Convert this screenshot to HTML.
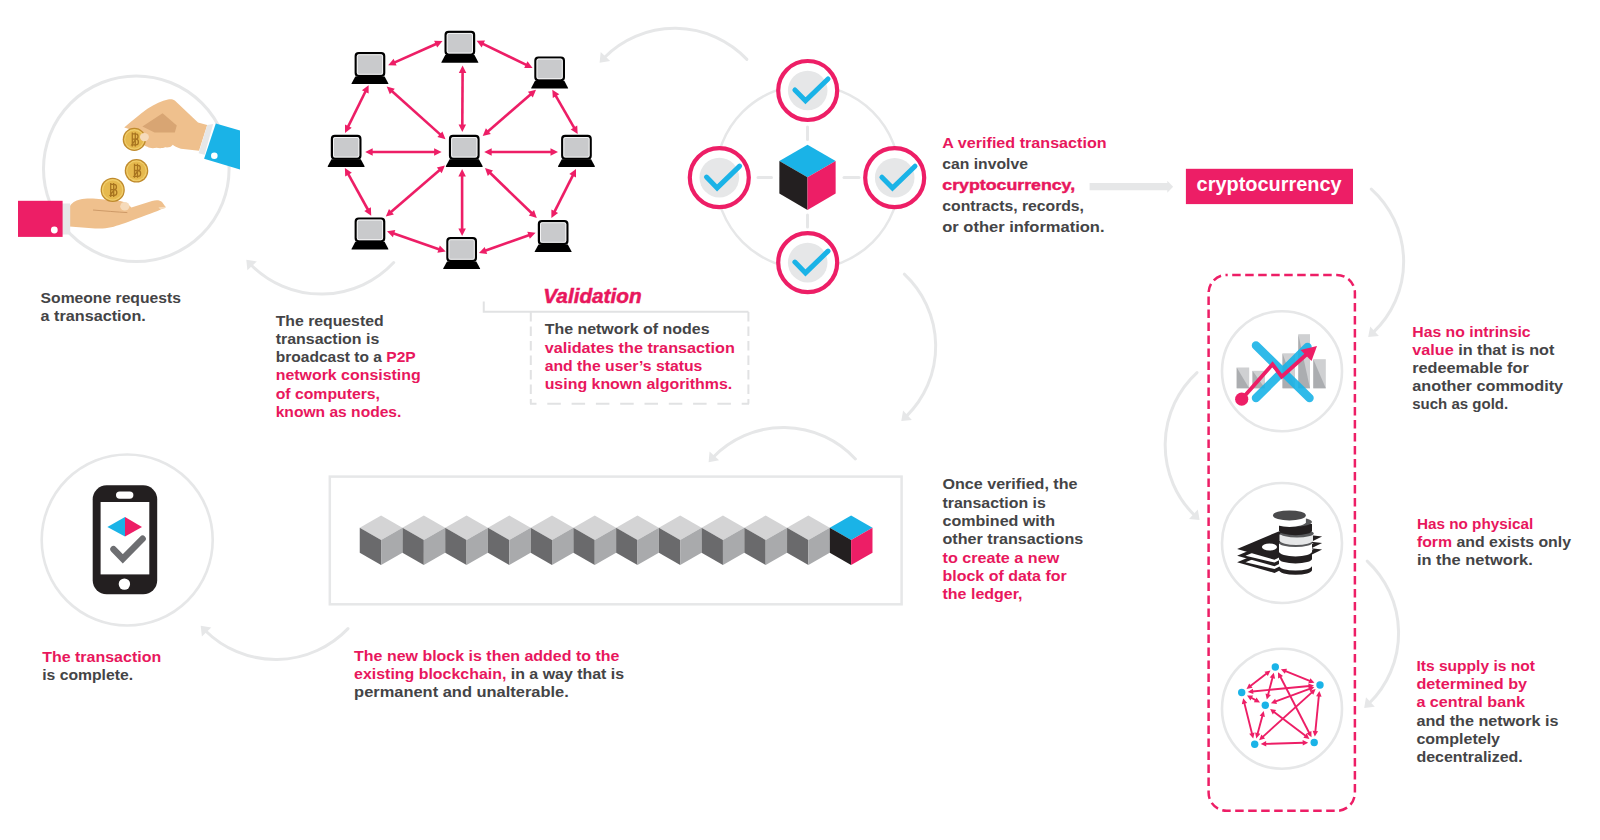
<!DOCTYPE html><html><head><meta charset="utf-8"><style>html,body{margin:0;padding:0;background:#fff;width:1600px;height:840px;overflow:hidden}svg{display:block;font-family:"Liberation Sans",sans-serif}</style></head><body>
<svg width="1600" height="840" viewBox="0 0 1600 840">
<rect width="1600" height="840" fill="#fff"/>
<path d="M393.7,262.5 A99.0,99.0 0 0 1 250.9,264.7" fill="none" stroke="#e6e7e8" stroke-width="3" stroke-linecap="round"/>
<polygon points="246.3,259.7 256.9,261.4 247.4,270.3" fill="#e6e7e8"/>
<path d="M746.9,59.4 A99.4,99.4 0 0 0 604.2,57.7" fill="none" stroke="#e6e7e8" stroke-width="3" stroke-linecap="round"/>
<polygon points="599.6,62.7 600.7,52.1 610.2,61.0" fill="#e6e7e8"/>
<path d="M904.3,274.2 A98.4,98.4 0 0 1 906.3,416.4" fill="none" stroke="#e6e7e8" stroke-width="3" stroke-linecap="round"/>
<polygon points="901.3,421.0 903.1,410.4 911.9,420.0" fill="#e6e7e8"/>
<path d="M855.4,458.9 A97.9,97.9 0 0 0 713.2,457.2" fill="none" stroke="#e6e7e8" stroke-width="3" stroke-linecap="round"/>
<polygon points="708.6,462.2 709.6,451.5 719.1,460.3" fill="#e6e7e8"/>
<path d="M348.0,628.6 A100.1,100.1 0 0 1 205.4,630.7" fill="none" stroke="#e6e7e8" stroke-width="3" stroke-linecap="round"/>
<polygon points="200.7,625.8 211.3,627.4 201.9,636.4" fill="#e6e7e8"/>
<path d="M1371.3,189.1 A97.6,97.6 0 0 1 1373.3,332.4" fill="none" stroke="#e6e7e8" stroke-width="3" stroke-linecap="round"/>
<polygon points="1368.2,336.9 1370.2,326.4 1378.9,336.0" fill="#e6e7e8"/>
<path d="M1197.0,372.6 A98.6,98.6 0 0 0 1194.6,515.4" fill="none" stroke="#e6e7e8" stroke-width="3" stroke-linecap="round"/>
<polygon points="1199.6,520.0 1189.0,518.9 1197.8,509.4" fill="#e6e7e8"/>
<path d="M1367.2,561.1 A98.4,98.4 0 0 1 1369.2,703.3" fill="none" stroke="#e6e7e8" stroke-width="3" stroke-linecap="round"/>
<polygon points="1364.2,707.9 1366.0,697.3 1374.8,706.8" fill="#e6e7e8"/>
<circle cx="136.3" cy="168.8" r="92.8" fill="none" stroke="#e6e7e8" stroke-width="3"/>
<path d="M69.5,206.6 C72,203 75,200.5 80,199.5 C84,198.6 90,198.4 96,198.8 L120.3,201 C125,202 129,204.5 131.4,207.6 L152,201 C156,199.8 160,200 162,202 L165.8,207.2 C160,210 150,214 136.5,218.7 C125,223 118,225.5 111.2,227.3 C106,228.6 100,228.8 95,228.4 L69.5,226.5 Z" fill="#efc08d"/>
<path d="M93,210 C105,211 117,212 127.3,212.6" stroke="#c99563" stroke-width="0.9" fill="none"/>
<ellipse cx="124.8" cy="206.2" rx="4.6" ry="4.3" fill="#f6dbbb"/>
<path d="M158.5,207.2 L165.8,206.8 L164.5,208.6 L160,209.3 Z" fill="#f6dbbb"/>
<rect x="62" y="203.5" width="8.2" height="31" fill="#e6e7e8"/>
<rect x="18" y="200.8" width="44.6" height="36.1" fill="#ed1e66"/>
<circle cx="54.3" cy="230" r="3.4" fill="#fff"/>
<path d="M124.2,127.4 C132,121 140,114 147.4,108.7 C155,104 162,101 168,99.6 C171,99 173,99.6 174.8,100.6 L198,122.4 L207.2,124.9 L199,150.7 L180.9,148.7 C177,147.5 174,146 172.8,144.7 C171,147.5 168,147.5 165,147.3 C163,148.3 159,148.5 156.6,147.7 C153,148.5 150,148.3 147.4,146.7 C145,146.5 143.8,145 143.4,143.6 L140.4,132.5 Z" fill="#efc08d"/>
<path d="M142.4,126.4 L162.6,113.3 L176.8,125.4 L174.8,132.5 L154.5,132.5 Z" fill="#d8a573"/>
<polygon points="207.2,124.9 213.2,123.9 204.6,154.8 198.6,153.3" fill="#e6e7e8"/>
<polygon points="215.8,123.4 240,130.5 240,169.5 204.1,158.8" fill="#1ab3e7"/>
<circle cx="214.3" cy="155.8" r="3.3" fill="#fff"/>
<circle cx="134.3" cy="139.4" r="11.6" fill="#bf8a2c"/>
<circle cx="134.3" cy="139.4" r="10.299999999999999" fill="#f0cd6a"/>
<circle cx="134.3" cy="139.4" r="9.0" fill="#e6b94e"/>
<path d="M131.8,133.9 L135.8,133.9 C138.8,133.9 138.8,139.1 135.8,139.1 L131.8,139.1 M135.8,139.1 C139.3,139.1 139.3,144.9 135.8,144.9 L131.8,144.9 Z M132.3,132.4 L132.3,146.4 M135.3,132.4 L135.3,146.4" fill="none" stroke="#a87420" stroke-width="1.3"/>
<circle cx="136.5" cy="170.8" r="11.8" fill="#bf8a2c"/>
<circle cx="136.5" cy="170.8" r="10.5" fill="#f0cd6a"/>
<circle cx="136.5" cy="170.8" r="9.200000000000001" fill="#e6b94e"/>
<path d="M134.0,165.3 L138.0,165.3 C141.0,165.3 141.0,170.5 138.0,170.5 L134.0,170.5 M138.0,170.5 C141.5,170.5 141.5,176.3 138.0,176.3 L134.0,176.3 Z M134.5,163.8 L134.5,177.8 M137.5,163.8 L137.5,177.8" fill="none" stroke="#a87420" stroke-width="1.3"/>
<circle cx="112.7" cy="189.9" r="12.1" fill="#bf8a2c"/>
<circle cx="112.7" cy="189.9" r="10.799999999999999" fill="#f0cd6a"/>
<circle cx="112.7" cy="189.9" r="9.5" fill="#e6b94e"/>
<path d="M110.2,184.4 L114.2,184.4 C117.2,184.4 117.2,189.6 114.2,189.6 L110.2,189.6 M114.2,189.6 C117.7,189.6 117.7,195.4 114.2,195.4 L110.2,195.4 Z M110.7,182.9 L110.7,196.9 M113.7,182.9 L113.7,196.9" fill="none" stroke="#a87420" stroke-width="1.3"/>
<ellipse cx="144.4" cy="137.1" rx="4.5" ry="4.1" fill="#f6dbbb"/>
<line x1="394.2" y1="62.6" x2="436.6" y2="43.7" stroke="#ed1e66" stroke-width="2.6"/>
<polygon points="388.2,65.2 396.6,65.6 393.6,58.8" fill="#ed1e66"/>
<polygon points="442.5,41.1 437.2,47.6 434.1,40.7" fill="#ed1e66"/>
<line x1="482.4" y1="43.6" x2="526.8" y2="65.1" stroke="#ed1e66" stroke-width="2.6"/>
<polygon points="476.6,40.8 481.7,47.4 485.0,40.6" fill="#ed1e66"/>
<polygon points="532.6,67.9 524.2,68.0 527.5,61.3" fill="#ed1e66"/>
<line x1="462.6" y1="72.1" x2="462.3" y2="125.5" stroke="#ed1e66" stroke-width="2.6"/>
<polygon points="462.6,65.6 458.8,73.1 466.3,73.1" fill="#ed1e66"/>
<polygon points="462.3,132.0 458.6,124.5 466.1,124.5" fill="#ed1e66"/>
<line x1="365.7" y1="91.0" x2="347.9" y2="127.1" stroke="#ed1e66" stroke-width="2.6"/>
<polygon points="368.6,85.2 361.9,90.3 368.6,93.6" fill="#ed1e66"/>
<polygon points="345.0,132.9 345.0,124.5 351.7,127.8" fill="#ed1e66"/>
<line x1="391.5" y1="90.8" x2="440.7" y2="134.9" stroke="#ed1e66" stroke-width="2.6"/>
<polygon points="386.7,86.5 389.8,94.3 394.8,88.7" fill="#ed1e66"/>
<polygon points="445.5,139.2 437.4,137.0 442.4,131.4" fill="#ed1e66"/>
<line x1="531.1" y1="94.0" x2="487.6" y2="131.7" stroke="#ed1e66" stroke-width="2.6"/>
<polygon points="536.0,89.7 527.9,91.8 532.8,97.4" fill="#ed1e66"/>
<polygon points="482.7,136.0 485.9,128.3 490.8,133.9" fill="#ed1e66"/>
<line x1="555.5" y1="95.3" x2="574.5" y2="128.4" stroke="#ed1e66" stroke-width="2.6"/>
<polygon points="552.3,89.7 552.8,98.1 559.3,94.3" fill="#ed1e66"/>
<polygon points="577.7,134.0 570.7,129.4 577.2,125.6" fill="#ed1e66"/>
<line x1="371.7" y1="152.0" x2="435.1" y2="152.0" stroke="#ed1e66" stroke-width="2.6"/>
<polygon points="365.2,152.0 372.7,155.8 372.7,148.2" fill="#ed1e66"/>
<polygon points="441.6,152.0 434.1,155.8 434.1,148.2" fill="#ed1e66"/>
<line x1="490.7" y1="152.0" x2="551.5" y2="152.0" stroke="#ed1e66" stroke-width="2.6"/>
<polygon points="484.2,152.0 491.7,155.8 491.7,148.2" fill="#ed1e66"/>
<polygon points="558.0,152.0 550.5,155.8 550.5,148.2" fill="#ed1e66"/>
<line x1="348.0" y1="173.7" x2="368.1" y2="210.0" stroke="#ed1e66" stroke-width="2.6"/>
<polygon points="344.9,168.0 345.2,176.4 351.8,172.8" fill="#ed1e66"/>
<polygon points="371.2,215.7 364.3,210.9 370.9,207.3" fill="#ed1e66"/>
<line x1="440.0" y1="169.8" x2="390.7" y2="212.3" stroke="#ed1e66" stroke-width="2.6"/>
<polygon points="444.9,165.5 436.8,167.6 441.7,173.2" fill="#ed1e66"/>
<polygon points="385.8,216.6 389.0,208.9 393.9,214.5" fill="#ed1e66"/>
<line x1="462.1" y1="175.5" x2="462.1" y2="229.4" stroke="#ed1e66" stroke-width="2.6"/>
<polygon points="462.1,169.0 458.4,176.5 465.9,176.5" fill="#ed1e66"/>
<polygon points="462.1,235.9 458.4,228.4 465.9,228.4" fill="#ed1e66"/>
<line x1="489.7" y1="172.5" x2="532.1" y2="213.5" stroke="#ed1e66" stroke-width="2.6"/>
<polygon points="485.0,168.0 487.8,175.9 493.0,170.5" fill="#ed1e66"/>
<polygon points="536.8,218.0 528.8,215.5 534.0,210.1" fill="#ed1e66"/>
<line x1="573.1" y1="174.8" x2="554.3" y2="212.2" stroke="#ed1e66" stroke-width="2.6"/>
<polygon points="576.0,169.0 569.3,174.0 576.0,177.4" fill="#ed1e66"/>
<polygon points="551.4,218.0 551.4,209.6 558.1,213.0" fill="#ed1e66"/>
<line x1="393.1" y1="233.3" x2="439.6" y2="249.5" stroke="#ed1e66" stroke-width="2.6"/>
<polygon points="387.0,231.2 392.9,237.2 395.3,230.1" fill="#ed1e66"/>
<polygon points="445.7,251.6 437.4,252.7 439.8,245.6" fill="#ed1e66"/>
<line x1="485.0" y1="250.7" x2="529.5" y2="234.9" stroke="#ed1e66" stroke-width="2.6"/>
<polygon points="478.9,252.9 487.2,253.9 484.7,246.9" fill="#ed1e66"/>
<polygon points="535.6,232.7 529.8,238.7 527.3,231.7" fill="#ed1e66"/>
<rect x="445.6" y="31.8" width="28.5" height="22.8" rx="3" fill="#c9cacc" stroke="#000" stroke-width="2.2"/>
<rect x="447.2" y="33.4" width="25.3" height="19.6" rx="1.8" fill="none" stroke="#fff" stroke-width="0.8"/>
<path d="M445.2,55.1 L474.5,55.1 L478.3,62.2 Q478.5,62.8 477.7,62.8 L442.0,62.8 Q441.2,62.8 441.4,62.2 Z" fill="#000"/>
<rect x="355.7" y="53.1" width="28.5" height="22.8" rx="3" fill="#c9cacc" stroke="#000" stroke-width="2.2"/>
<rect x="357.3" y="54.7" width="25.3" height="19.6" rx="1.8" fill="none" stroke="#fff" stroke-width="0.8"/>
<path d="M355.3,76.4 L384.6,76.4 L388.4,83.5 Q388.6,84.1 387.8,84.1 L352.1,84.1 Q351.3,84.1 351.5,83.5 Z" fill="#000"/>
<rect x="535.4" y="57.5" width="28.5" height="22.8" rx="3" fill="#c9cacc" stroke="#000" stroke-width="2.2"/>
<rect x="537.0" y="59.1" width="25.3" height="19.6" rx="1.8" fill="none" stroke="#fff" stroke-width="0.8"/>
<path d="M535.0,80.8 L564.3,80.8 L568.1,87.9 Q568.3,88.5 567.5,88.5 L531.8,88.5 Q531.0,88.5 531.2,87.9 Z" fill="#000"/>
<rect x="331.9" y="135.9" width="28.5" height="22.8" rx="3" fill="#c9cacc" stroke="#000" stroke-width="2.2"/>
<rect x="333.5" y="137.5" width="25.3" height="19.6" rx="1.8" fill="none" stroke="#fff" stroke-width="0.8"/>
<path d="M331.5,159.2 L360.8,159.2 L364.6,166.3 Q364.8,166.9 364.0,166.9 L328.3,166.9 Q327.5,166.9 327.7,166.3 Z" fill="#000"/>
<rect x="450.0" y="135.9" width="28.5" height="22.8" rx="3" fill="#c9cacc" stroke="#000" stroke-width="2.2"/>
<rect x="451.6" y="137.5" width="25.3" height="19.6" rx="1.8" fill="none" stroke="#fff" stroke-width="0.8"/>
<path d="M449.6,159.2 L478.9,159.2 L482.7,166.3 Q482.9,166.9 482.1,166.9 L446.4,166.9 Q445.6,166.9 445.8,166.3 Z" fill="#000"/>
<rect x="562.2" y="135.9" width="28.5" height="22.8" rx="3" fill="#c9cacc" stroke="#000" stroke-width="2.2"/>
<rect x="563.8" y="137.5" width="25.3" height="19.6" rx="1.8" fill="none" stroke="#fff" stroke-width="0.8"/>
<path d="M561.8,159.2 L591.1,159.2 L594.9,166.3 Q595.1,166.9 594.3,166.9 L558.6,166.9 Q557.8,166.9 558.0,166.3 Z" fill="#000"/>
<rect x="355.7" y="218.5" width="28.5" height="22.8" rx="3" fill="#c9cacc" stroke="#000" stroke-width="2.2"/>
<rect x="357.3" y="220.1" width="25.3" height="19.6" rx="1.8" fill="none" stroke="#fff" stroke-width="0.8"/>
<path d="M355.3,241.8 L384.6,241.8 L388.4,248.9 Q388.6,249.5 387.8,249.5 L352.1,249.5 Q351.3,249.5 351.5,248.9 Z" fill="#000"/>
<rect x="447.4" y="238.1" width="28.5" height="22.8" rx="3" fill="#c9cacc" stroke="#000" stroke-width="2.2"/>
<rect x="449.0" y="239.7" width="25.3" height="19.6" rx="1.8" fill="none" stroke="#fff" stroke-width="0.8"/>
<path d="M447.0,261.4 L476.3,261.4 L480.1,268.5 Q480.3,269.1 479.5,269.1 L443.8,269.1 Q443.0,269.1 443.2,268.5 Z" fill="#000"/>
<rect x="538.9" y="221.1" width="28.5" height="22.8" rx="3" fill="#c9cacc" stroke="#000" stroke-width="2.2"/>
<rect x="540.5" y="222.7" width="25.3" height="19.6" rx="1.8" fill="none" stroke="#fff" stroke-width="0.8"/>
<path d="M538.5,244.4 L567.8,244.4 L571.6,251.5 Q571.8,252.1 571.0,252.1 L535.3,252.1 Q534.5,252.1 534.7,251.5 Z" fill="#000"/>
<circle cx="807.7" cy="177" r="92" fill="none" stroke="#e6e7e8" stroke-width="2.5"/>
<line x1="807.5" y1="127" x2="807.5" y2="139.5" stroke="#e6e7e8" stroke-width="3" stroke-linecap="round"/>
<line x1="807.5" y1="215" x2="807.5" y2="227" stroke="#e6e7e8" stroke-width="3" stroke-linecap="round"/>
<line x1="758" y1="177.5" x2="771.5" y2="177.5" stroke="#e6e7e8" stroke-width="3" stroke-linecap="round"/>
<line x1="844" y1="177.5" x2="859" y2="177.5" stroke="#e6e7e8" stroke-width="3" stroke-linecap="round"/>
<circle cx="807.7" cy="90.5" r="29.5" fill="#fff" stroke="#ed1e66" stroke-width="4.2"/>
<circle cx="807.7" cy="90.5" r="19.8" fill="#e6e7e8"/>
<polyline points="794.9,90.0 805.5,100.8 828.0,79.0" fill="none" stroke="#1ab3e7" stroke-width="5" stroke-linecap="round" stroke-linejoin="miter"/>
<circle cx="719.3" cy="177.6" r="29.5" fill="#fff" stroke="#ed1e66" stroke-width="4.2"/>
<circle cx="719.3" cy="177.6" r="19.8" fill="#e6e7e8"/>
<polyline points="706.5,177.1 717.1,187.9 739.6,166.1" fill="none" stroke="#1ab3e7" stroke-width="5" stroke-linecap="round" stroke-linejoin="miter"/>
<circle cx="894.7" cy="177.7" r="29.5" fill="#fff" stroke="#ed1e66" stroke-width="4.2"/>
<circle cx="894.7" cy="177.7" r="19.8" fill="#e6e7e8"/>
<polyline points="881.9,177.2 892.5,188.0 915.0,166.2" fill="none" stroke="#1ab3e7" stroke-width="5" stroke-linecap="round" stroke-linejoin="miter"/>
<circle cx="807.7" cy="262.6" r="29.5" fill="#fff" stroke="#ed1e66" stroke-width="4.2"/>
<circle cx="807.7" cy="262.6" r="19.8" fill="#e6e7e8"/>
<polyline points="794.9,262.1 805.5,272.9 828.0,251.1" fill="none" stroke="#1ab3e7" stroke-width="5" stroke-linecap="round" stroke-linejoin="miter"/>
<polygon points="807.50,144.70 835.65,161.00 807.50,177.30 779.35,161.00" fill="#1ab3e7"/>
<polygon points="779.35,161.00 807.50,177.30 807.50,209.90 779.35,193.60" fill="#231f20"/>
<polygon points="807.50,177.30 835.65,161.00 835.65,193.60 807.50,209.90" fill="#ed1e66"/>
<polyline points="483.75,301.5 483.75,311.8 748.5,311.8" fill="none" stroke="#e1e2e3" stroke-width="2"/>
<line x1="530.8" y1="312" x2="530.8" y2="403.7" stroke="#e1e2e3" stroke-width="2" stroke-dasharray="9.5,5"/>
<line x1="748.4" y1="312" x2="748.4" y2="403.7" stroke="#e1e2e3" stroke-width="2" stroke-dasharray="9.5,5"/>
<line x1="530" y1="403.7" x2="749" y2="403.7" stroke="#e1e2e3" stroke-width="2" stroke-dasharray="6.5,10.8,13.5,10.8,13.5,10.8,13.5,10.8,13.5,10.8,13.5,10.8,13.5,10.8,13.5,10.8,13.5,10.8,13.5,10.8"/>
<text x="543.3" y="302.75" font-size="19.5" font-weight="bold" font-style="italic" fill="#e8175d" stroke="#e8175d" stroke-width="0.5" textLength="98.3" lengthAdjust="spacingAndGlyphs">Validation</text>
<text x="40.6" y="302.8" font-size="15.5" font-weight="bold" textLength="140.3" lengthAdjust="spacingAndGlyphs"><tspan fill="#444446">Someone requests</tspan></text>
<text x="40.6" y="320.9" font-size="15.5" font-weight="bold" textLength="105.2" lengthAdjust="spacingAndGlyphs"><tspan fill="#444446">a transaction.</tspan></text>
<text x="275.7" y="325.7" font-size="15.5" font-weight="bold" textLength="107.9" lengthAdjust="spacingAndGlyphs"><tspan fill="#444446">The requested</tspan></text>
<text x="275.7" y="343.9" font-size="15.5" font-weight="bold" textLength="103.6" lengthAdjust="spacingAndGlyphs"><tspan fill="#444446">transaction is</tspan></text>
<text x="275.7" y="362.2" font-size="15.5" font-weight="bold" textLength="140" lengthAdjust="spacingAndGlyphs"><tspan fill="#444446">broadcast to a </tspan><tspan fill="#e8175d">P2P</tspan></text>
<text x="275.7" y="380.4" font-size="15.5" font-weight="bold" textLength="145" lengthAdjust="spacingAndGlyphs"><tspan fill="#e8175d">network consisting</tspan></text>
<text x="275.7" y="398.7" font-size="15.5" font-weight="bold" textLength="104.3" lengthAdjust="spacingAndGlyphs"><tspan fill="#e8175d">of computers,</tspan></text>
<text x="275.7" y="416.9" font-size="15.5" font-weight="bold" textLength="125.7" lengthAdjust="spacingAndGlyphs"><tspan fill="#e8175d">known as nodes.</tspan></text>
<text x="544.65" y="334.2" font-size="15.5" font-weight="bold" textLength="164.9" lengthAdjust="spacingAndGlyphs"><tspan fill="#444446">The network of nodes</tspan></text>
<text x="544.65" y="352.6" font-size="15.5" font-weight="bold" textLength="190.2" lengthAdjust="spacingAndGlyphs"><tspan fill="#e8175d">validates the transaction</tspan></text>
<text x="544.65" y="371.1" font-size="15.5" font-weight="bold" textLength="157.7" lengthAdjust="spacingAndGlyphs"><tspan fill="#e8175d">and the user’s status</tspan></text>
<text x="544.65" y="389.4" font-size="15.5" font-weight="bold" textLength="187.6" lengthAdjust="spacingAndGlyphs"><tspan fill="#e8175d">using known algorithms.</tspan></text>
<text x="942.3" y="147.6" font-size="15.5" font-weight="bold" textLength="164.3" lengthAdjust="spacingAndGlyphs"><tspan fill="#e8175d">A verified transaction</tspan></text>
<text x="942.3" y="168.7" font-size="15.5" font-weight="bold" textLength="85.6" lengthAdjust="spacingAndGlyphs"><tspan fill="#444446">can involve</tspan></text>
<text x="942.3" y="189.7" font-size="15.5" font-weight="bold" textLength="132.8" lengthAdjust="spacingAndGlyphs"><tspan fill="#e8175d" stroke="#e8175d" stroke-width="0.45">cryptocurrency,</tspan></text>
<text x="942.3" y="210.8" font-size="15.5" font-weight="bold" textLength="141.7" lengthAdjust="spacingAndGlyphs"><tspan fill="#444446">contracts, records,</tspan></text>
<text x="942.3" y="231.8" font-size="15.5" font-weight="bold" textLength="162.2" lengthAdjust="spacingAndGlyphs"><tspan fill="#444446">or other information.</tspan></text>
<text x="942.5" y="489.2" font-size="15.5" font-weight="bold" textLength="135" lengthAdjust="spacingAndGlyphs"><tspan fill="#444446">Once verified, the</tspan></text>
<text x="942.5" y="507.5" font-size="15.5" font-weight="bold" textLength="103.3" lengthAdjust="spacingAndGlyphs"><tspan fill="#444446">transaction is</tspan></text>
<text x="942.5" y="525.9" font-size="15.5" font-weight="bold" textLength="112.5" lengthAdjust="spacingAndGlyphs"><tspan fill="#444446">combined with</tspan></text>
<text x="942.5" y="544.2" font-size="15.5" font-weight="bold" textLength="140.8" lengthAdjust="spacingAndGlyphs"><tspan fill="#444446">other transactions</tspan></text>
<text x="942.5" y="562.5" font-size="15.5" font-weight="bold" textLength="116.7" lengthAdjust="spacingAndGlyphs"><tspan fill="#e8175d">to create a new</tspan></text>
<text x="942.5" y="580.9" font-size="15.5" font-weight="bold" textLength="124.2" lengthAdjust="spacingAndGlyphs"><tspan fill="#e8175d">block of data for</tspan></text>
<text x="942.5" y="599.2" font-size="15.5" font-weight="bold" textLength="80" lengthAdjust="spacingAndGlyphs"><tspan fill="#e8175d">the ledger,</tspan></text>
<text x="42.2" y="661.8" font-size="15.5" font-weight="bold" textLength="119" lengthAdjust="spacingAndGlyphs"><tspan fill="#e8175d">The transaction</tspan></text>
<text x="42.2" y="679.9" font-size="15.5" font-weight="bold" textLength="90.9" lengthAdjust="spacingAndGlyphs"><tspan fill="#444446">is complete.</tspan></text>
<text x="354.1" y="661.0" font-size="15.5" font-weight="bold" textLength="265.3" lengthAdjust="spacingAndGlyphs"><tspan fill="#e8175d">The new block is then added to the</tspan></text>
<text x="354.1" y="679.1" font-size="15.5" font-weight="bold" textLength="270" lengthAdjust="spacingAndGlyphs"><tspan fill="#e8175d">existing blockchain, </tspan><tspan fill="#444446">in a way that is</tspan></text>
<text x="354.1" y="697.2" font-size="15.5" font-weight="bold" textLength="214.7" lengthAdjust="spacingAndGlyphs"><tspan fill="#444446">permanent and unalterable.</tspan></text>
<text x="1412.25" y="336.9" font-size="15.5" font-weight="bold" textLength="118.4" lengthAdjust="spacingAndGlyphs"><tspan fill="#e8175d">Has no intrinsic</tspan></text>
<text x="1412.25" y="355.0" font-size="15.5" font-weight="bold" textLength="142.1" lengthAdjust="spacingAndGlyphs"><tspan fill="#e8175d">value </tspan><tspan fill="#444446">in that is not</tspan></text>
<text x="1412.25" y="373.1" font-size="15.5" font-weight="bold" textLength="116.5" lengthAdjust="spacingAndGlyphs"><tspan fill="#444446">redeemable for</tspan></text>
<text x="1412.25" y="391.3" font-size="15.5" font-weight="bold" textLength="150.9" lengthAdjust="spacingAndGlyphs"><tspan fill="#444446">another commodity</tspan></text>
<text x="1412.25" y="409.4" font-size="15.5" font-weight="bold" textLength="95.9" lengthAdjust="spacingAndGlyphs"><tspan fill="#444446">such as gold.</tspan></text>
<text x="1416.9" y="528.6" font-size="15.5" font-weight="bold" textLength="116.4" lengthAdjust="spacingAndGlyphs"><tspan fill="#e8175d">Has no physical</tspan></text>
<text x="1416.9" y="546.9" font-size="15.5" font-weight="bold" textLength="154.1" lengthAdjust="spacingAndGlyphs"><tspan fill="#e8175d">form </tspan><tspan fill="#444446">and exists only</tspan></text>
<text x="1416.9" y="565.2" font-size="15.5" font-weight="bold" textLength="115.9" lengthAdjust="spacingAndGlyphs"><tspan fill="#444446">in the network.</tspan></text>
<text x="1416.4" y="670.7" font-size="15.5" font-weight="bold" textLength="118.6" lengthAdjust="spacingAndGlyphs"><tspan fill="#e8175d">Its supply is not</tspan></text>
<text x="1416.4" y="689.0" font-size="15.5" font-weight="bold" textLength="110.7" lengthAdjust="spacingAndGlyphs"><tspan fill="#e8175d">determined by</tspan></text>
<text x="1416.4" y="707.3" font-size="15.5" font-weight="bold" textLength="108.6" lengthAdjust="spacingAndGlyphs"><tspan fill="#e8175d">a central bank</tspan></text>
<text x="1416.4" y="725.5" font-size="15.5" font-weight="bold" textLength="142.1" lengthAdjust="spacingAndGlyphs"><tspan fill="#444446">and the network is</tspan></text>
<text x="1416.4" y="743.8" font-size="15.5" font-weight="bold" textLength="83.6" lengthAdjust="spacingAndGlyphs"><tspan fill="#444446">completely</tspan></text>
<text x="1416.4" y="762.1" font-size="15.5" font-weight="bold" textLength="106.4" lengthAdjust="spacingAndGlyphs"><tspan fill="#444446">decentralized.</tspan></text>
<polygon points="1089.6,183.1 1167.3,183.1 1167.3,180.7 1173.1,186.7 1167.3,192.7 1167.3,190.3 1089.6,190.3" fill="#e6e7e8"/>
<rect x="1185.9" y="168.8" width="167.1" height="35.3" fill="#ed1e66"/>
<text x="1196.6" y="190.6" font-size="19.5" font-weight="bold" fill="#fff" textLength="145.1" lengthAdjust="spacingAndGlyphs">cryptocurrency</text>
<rect x="1208.6" y="274.9" width="146.3" height="535.9" rx="18" fill="none" stroke="#ed1e66" stroke-width="2.5" stroke-dasharray="8.5,4.5" stroke-dashoffset="7.4"/>
<circle cx="1282" cy="371.2" r="60" fill="none" stroke="#e6e7e8" stroke-width="2.6"/>
<circle cx="1282" cy="543" r="60" fill="none" stroke="#e6e7e8" stroke-width="2.6"/>
<circle cx="1282" cy="708.7" r="60" fill="none" stroke="#e6e7e8" stroke-width="2.6"/>
<rect x="1236.7" y="367.5" width="12.5" height="20.8" fill="#cfd0d2"/>
<polygon points="1236.7,367.5 1249.2,388.3 1236.7,388.3" fill="#abadb0"/>
<rect x="1252.5" y="370.8" width="12.5" height="17.5" fill="#cfd0d2"/>
<polygon points="1252.5,370.8 1265,388.3 1252.5,388.3" fill="#abadb0"/>
<rect x="1282.5" y="353.3" width="12.5" height="35.0" fill="#cfd0d2"/>
<polygon points="1282.5,353.3 1295,388.3 1282.5,388.3" fill="#abadb0"/>
<rect x="1298.3" y="334.2" width="11.7" height="54.1" fill="#cfd0d2"/>
<polygon points="1298.3,334.2 1310,388.3 1298.3,388.3" fill="#abadb0"/>
<rect x="1313.3" y="359.2" width="12.5" height="29.1" fill="#cfd0d2"/>
<polygon points="1313.3,359.2 1325.8,388.3 1313.3,388.3" fill="#abadb0"/>
<g opacity="0.9">
<line x1="1256" y1="345.5" x2="1309.5" y2="398" stroke="#1ab3e7" stroke-width="8.5" stroke-linecap="round"/>
<line x1="1256" y1="398" x2="1307.5" y2="347" stroke="#1ab3e7" stroke-width="8.5" stroke-linecap="round"/>
</g>
<polyline points="1241.7,399.2 1272.5,364.2 1281.7,376.7 1307,354" fill="none" stroke="#ed1e66" stroke-width="3.8" stroke-linejoin="miter"/>
<polygon points="1317,346 1311.5,361 1300.5,350" fill="#ed1e66"/>
<circle cx="1241.7" cy="399.2" r="6.6" fill="#ed1e66"/>
<polygon points="1237.1,562.3 1278.6,544.6 1322.1,549.6 1274.5,572.9" fill="#231f20"/>
<polygon points="1245.5,562.3 1278.6,548.4 1313.7,549.6 1274.5,569.1" fill="#fff"/>
<polygon points="1237.1,555.7 1278.6,538.0 1322.1,543.0 1274.5,566.3" fill="#231f20"/>
<polygon points="1245.5,555.7 1278.6,541.8 1313.7,543.0 1274.5,562.5" fill="#fff"/>
<polygon points="1237.1,549.1 1278.6,531.4 1322.1,536.4 1274.5,559.7" fill="#231f20"/>
<ellipse cx="1269.5" cy="547" rx="7.6" ry="3.5" fill="#fff"/>
<path d="M1279.0,565.8 L1279.0,570.0 A16.5,4.8 0 0 0 1312.0,570.0 L1312.0,565.8 Z" fill="#231f20"/>
<path d="M1279.0,558.7 L1279.0,565.8 A16.5,4.8 0 0 0 1312.0,565.8 L1312.0,558.7 Z" fill="#fff"/>
<path d="M1279.0,551.6 L1279.0,558.7 A16.5,4.8 0 0 0 1312.0,558.7 L1312.0,551.6 Z" fill="#231f20"/>
<path d="M1279.0,543.5 L1279.0,551.6 A16.5,4.8 0 0 0 1312.0,551.6 L1312.0,543.5 Z" fill="#fff"/>
<ellipse cx="1295.6" cy="543" rx="16.5" ry="4" fill="#58595b"/>
<path d="M1279.5,534.4 L1279.5,540.5 A16.8,4.8 0 0 0 1313.0,540.5 L1313.0,534.4 Z" fill="#e6e7e8"/>
<ellipse cx="1297" cy="533.5" rx="16.8" ry="4" fill="#58595b"/>
<path d="M1279.0,524.0 L1279.0,530.4 A16.5,4.8 0 0 0 1312.0,530.4 L1312.0,524.0 Z" fill="#231f20"/>
<ellipse cx="1295.5" cy="522" rx="16.4" ry="4.5" fill="#58595b"/>
<path d="M1273.0,515.4 L1273.0,522.3 A16.5,5 0 0 0 1305.9,522.3 L1305.9,515.4 Z" fill="#fff"/>
<ellipse cx="1289.4" cy="515.4" rx="16.4" ry="5" fill="#4a4a4c"/>
<line x1="1266.9" y1="673.3" x2="1250.1" y2="686.2" stroke="#ed1e66" stroke-width="1.9"/>
<polygon points="1270.5,670.6 1264.5,671.8 1267.8,676.1" fill="#ed1e66"/>
<polygon points="1246.5,688.9 1249.2,683.4 1252.5,687.7" fill="#ed1e66"/>
<line x1="1285.0" y1="670.9" x2="1310.3" y2="681.1" stroke="#ed1e66" stroke-width="1.9"/>
<polygon points="1280.9,669.2 1284.9,673.8 1287.0,668.7" fill="#ed1e66"/>
<polygon points="1314.4,682.8 1308.3,683.3 1310.4,678.2" fill="#ed1e66"/>
<line x1="1272.6" y1="677.2" x2="1268.0" y2="695.1" stroke="#ed1e66" stroke-width="1.9"/>
<polygon points="1273.8,672.8 1269.7,677.4 1275.1,678.8" fill="#ed1e66"/>
<polygon points="1266.8,699.5 1265.5,693.5 1270.9,694.9" fill="#ed1e66"/>
<line x1="1280.1" y1="676.3" x2="1309.4" y2="733.2" stroke="#ed1e66" stroke-width="1.9"/>
<polygon points="1278.0,672.3 1278.1,678.5 1283.0,676.0" fill="#ed1e66"/>
<polygon points="1311.5,737.2 1306.5,733.5 1311.4,731.0" fill="#ed1e66"/>
<line x1="1252.2" y1="691.5" x2="1309.5" y2="686.0" stroke="#ed1e66" stroke-width="1.9"/>
<polygon points="1247.7,691.9 1253.4,694.1 1252.9,688.7" fill="#ed1e66"/>
<polygon points="1314.0,685.6 1308.8,688.8 1308.3,683.4" fill="#ed1e66"/>
<line x1="1250.9" y1="697.5" x2="1256.1" y2="700.3" stroke="#ed1e66" stroke-width="1.9"/>
<polygon points="1247.0,695.4 1250.5,700.4 1253.1,695.6" fill="#ed1e66"/>
<polygon points="1260.0,702.4 1253.9,702.2 1256.5,697.4" fill="#ed1e66"/>
<line x1="1275.1" y1="701.6" x2="1310.2" y2="688.7" stroke="#ed1e66" stroke-width="1.9"/>
<polygon points="1270.9,703.2 1277.0,703.9 1275.1,698.7" fill="#ed1e66"/>
<polygon points="1314.4,687.1 1310.2,691.6 1308.3,686.4" fill="#ed1e66"/>
<line x1="1244.3" y1="702.7" x2="1252.1" y2="734.0" stroke="#ed1e66" stroke-width="1.9"/>
<polygon points="1243.2,698.3 1241.8,704.3 1247.2,703.0" fill="#ed1e66"/>
<polygon points="1253.2,738.4 1249.2,733.7 1254.6,732.4" fill="#ed1e66"/>
<line x1="1262.5" y1="715.4" x2="1257.5" y2="734.1" stroke="#ed1e66" stroke-width="1.9"/>
<polygon points="1263.7,711.1 1259.6,715.7 1264.9,717.1" fill="#ed1e66"/>
<polygon points="1256.3,738.4 1255.1,732.4 1260.4,733.8" fill="#ed1e66"/>
<line x1="1312.2" y1="692.1" x2="1262.5" y2="737.1" stroke="#ed1e66" stroke-width="1.9"/>
<polygon points="1315.6,689.0 1309.6,690.7 1313.3,694.8" fill="#ed1e66"/>
<polygon points="1259.1,740.2 1261.4,734.4 1265.1,738.5" fill="#ed1e66"/>
<line x1="1273.7" y1="711.7" x2="1305.8" y2="736.1" stroke="#ed1e66" stroke-width="1.9"/>
<polygon points="1270.1,708.9 1272.8,714.5 1276.1,710.1" fill="#ed1e66"/>
<polygon points="1309.4,738.9 1303.4,737.7 1306.7,733.3" fill="#ed1e66"/>
<line x1="1318.9" y1="695.4" x2="1315.3" y2="732.1" stroke="#ed1e66" stroke-width="1.9"/>
<polygon points="1319.4,691.0 1316.1,696.2 1321.6,696.7" fill="#ed1e66"/>
<polygon points="1314.8,736.5 1312.6,730.8 1318.1,731.3" fill="#ed1e66"/>
<line x1="1265.2" y1="743.9" x2="1303.7" y2="742.8" stroke="#ed1e66" stroke-width="1.9"/>
<polygon points="1260.7,744.0 1266.3,746.6 1266.1,741.1" fill="#ed1e66"/>
<polygon points="1308.2,742.7 1302.8,745.6 1302.6,740.1" fill="#ed1e66"/>
<circle cx="1275.3" cy="667" r="3.7" fill="#1ab3e7"/>
<circle cx="1320" cy="685" r="3.7" fill="#1ab3e7"/>
<circle cx="1241.7" cy="692.5" r="3.7" fill="#1ab3e7"/>
<circle cx="1265.3" cy="705.3" r="3.7" fill="#1ab3e7"/>
<circle cx="1254.7" cy="744.2" r="3.7" fill="#1ab3e7"/>
<circle cx="1314.2" cy="742.5" r="3.7" fill="#1ab3e7"/>
<circle cx="127.2" cy="540" r="85.5" fill="none" stroke="#e6e7e8" stroke-width="2.6"/>
<rect x="92.7" y="485.3" width="64.5" height="109" rx="14" fill="#231f20"/>
<rect x="100.6" y="502" width="48.7" height="72.4" fill="#fff"/>
<rect x="116" y="491.4" width="17.4" height="7.4" rx="3.7" fill="#fff"/>
<circle cx="124.4" cy="584.1" r="5.7" fill="#fff"/>
<polygon points="107.4,526.9 125,517 125,536.6" fill="#1ab3e7"/>
<polygon points="125,517 142,526.9 125,536.6" fill="#ed1e66"/>
<polyline points="113.5,549.2 122.8,558.8 142.6,538.8" fill="none" stroke="#6d6e71" stroke-width="6.5" stroke-linecap="round" stroke-linejoin="miter"/>
<rect x="329.8" y="476.6" width="571.8" height="127.7" fill="none" stroke="#e6e7e8" stroke-width="2.5"/>
<polygon points="381.10,515.50 402.45,527.75 381.10,540.00 359.75,527.75" fill="#d4d4d5"/>
<polygon points="359.75,527.75 381.10,540.00 381.10,564.90 359.75,552.65" fill="#6a6a6c"/>
<polygon points="381.10,540.00 402.45,527.75 402.45,552.65 381.10,564.90" fill="#a9aaac"/>
<polygon points="423.83,515.50 445.18,527.75 423.83,540.00 402.48,527.75" fill="#d4d4d5"/>
<polygon points="402.48,527.75 423.83,540.00 423.83,564.90 402.48,552.65" fill="#6a6a6c"/>
<polygon points="423.83,540.00 445.18,527.75 445.18,552.65 423.83,564.90" fill="#a9aaac"/>
<polygon points="466.56,515.50 487.91,527.75 466.56,540.00 445.21,527.75" fill="#d4d4d5"/>
<polygon points="445.21,527.75 466.56,540.00 466.56,564.90 445.21,552.65" fill="#6a6a6c"/>
<polygon points="466.56,540.00 487.91,527.75 487.91,552.65 466.56,564.90" fill="#a9aaac"/>
<polygon points="509.29,515.50 530.64,527.75 509.29,540.00 487.94,527.75" fill="#d4d4d5"/>
<polygon points="487.94,527.75 509.29,540.00 509.29,564.90 487.94,552.65" fill="#6a6a6c"/>
<polygon points="509.29,540.00 530.64,527.75 530.64,552.65 509.29,564.90" fill="#a9aaac"/>
<polygon points="552.02,515.50 573.37,527.75 552.02,540.00 530.67,527.75" fill="#d4d4d5"/>
<polygon points="530.67,527.75 552.02,540.00 552.02,564.90 530.67,552.65" fill="#6a6a6c"/>
<polygon points="552.02,540.00 573.37,527.75 573.37,552.65 552.02,564.90" fill="#a9aaac"/>
<polygon points="594.75,515.50 616.10,527.75 594.75,540.00 573.40,527.75" fill="#d4d4d5"/>
<polygon points="573.40,527.75 594.75,540.00 594.75,564.90 573.40,552.65" fill="#6a6a6c"/>
<polygon points="594.75,540.00 616.10,527.75 616.10,552.65 594.75,564.90" fill="#a9aaac"/>
<polygon points="637.48,515.50 658.83,527.75 637.48,540.00 616.13,527.75" fill="#d4d4d5"/>
<polygon points="616.13,527.75 637.48,540.00 637.48,564.90 616.13,552.65" fill="#6a6a6c"/>
<polygon points="637.48,540.00 658.83,527.75 658.83,552.65 637.48,564.90" fill="#a9aaac"/>
<polygon points="680.21,515.50 701.56,527.75 680.21,540.00 658.86,527.75" fill="#d4d4d5"/>
<polygon points="658.86,527.75 680.21,540.00 680.21,564.90 658.86,552.65" fill="#6a6a6c"/>
<polygon points="680.21,540.00 701.56,527.75 701.56,552.65 680.21,564.90" fill="#a9aaac"/>
<polygon points="722.94,515.50 744.29,527.75 722.94,540.00 701.59,527.75" fill="#d4d4d5"/>
<polygon points="701.59,527.75 722.94,540.00 722.94,564.90 701.59,552.65" fill="#6a6a6c"/>
<polygon points="722.94,540.00 744.29,527.75 744.29,552.65 722.94,564.90" fill="#a9aaac"/>
<polygon points="765.67,515.50 787.02,527.75 765.67,540.00 744.32,527.75" fill="#d4d4d5"/>
<polygon points="744.32,527.75 765.67,540.00 765.67,564.90 744.32,552.65" fill="#6a6a6c"/>
<polygon points="765.67,540.00 787.02,527.75 787.02,552.65 765.67,564.90" fill="#a9aaac"/>
<polygon points="808.40,515.50 829.75,527.75 808.40,540.00 787.05,527.75" fill="#d4d4d5"/>
<polygon points="787.05,527.75 808.40,540.00 808.40,564.90 787.05,552.65" fill="#6a6a6c"/>
<polygon points="808.40,540.00 829.75,527.75 829.75,552.65 808.40,564.90" fill="#a9aaac"/>
<polygon points="851.13,515.50 872.48,527.75 851.13,540.00 829.78,527.75" fill="#1ab3e7"/>
<polygon points="829.78,527.75 851.13,540.00 851.13,564.90 829.78,552.65" fill="#231f20"/>
<polygon points="851.13,540.00 872.48,527.75 872.48,552.65 851.13,564.90" fill="#ed1e66"/>
</svg></body></html>
